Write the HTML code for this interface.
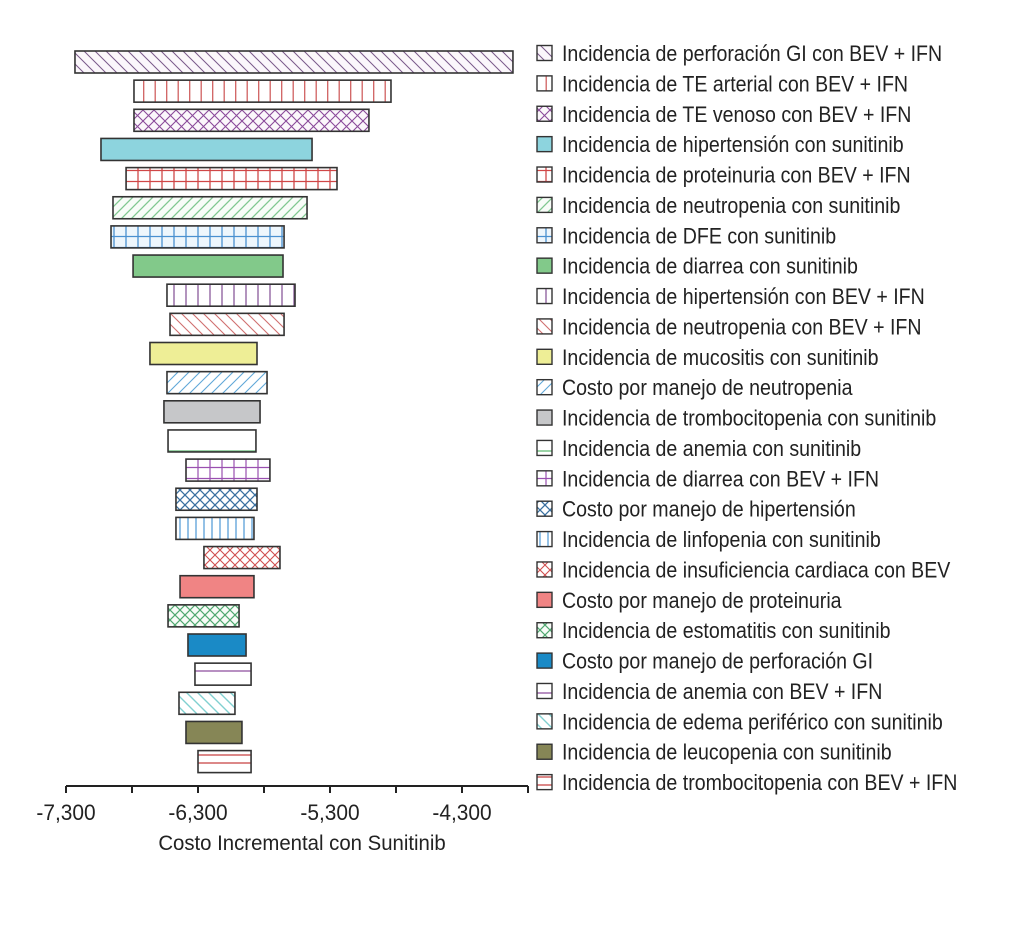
<!DOCTYPE html>
<html><head><meta charset="utf-8"><style>
html,body{margin:0;padding:0;background:#fff;}
svg text{font-family:"Liberation Sans",sans-serif;fill:#222;}
</style></head><body>
<svg width="1025" height="920" viewBox="0 0 1025 920" xmlns="http://www.w3.org/2000/svg">
<defs>
<pattern id="p-diagb-purple" width="11" height="11" patternUnits="userSpaceOnUse"><rect width="11" height="11" fill="#fbf7fb"/><path d="M0,0L11,11M-1,10L1,12M10,-1L12,1" stroke="#7a5a8a" stroke-width="1"/></pattern>
<pattern id="p-vert-red" width="11.5" height="10" patternUnits="userSpaceOnUse"><rect width="11.5" height="10" fill="#fff"/><path d="M5.7,0V10" stroke="#d06060" stroke-width="1.3"/></pattern>
<pattern id="p-cross-purple" width="11" height="11" patternUnits="userSpaceOnUse"><rect width="11" height="11" fill="#fbf7fb"/><path d="M0,0L11,11M11,0L0,11" stroke="#8a4a9a" stroke-width="1.1"/></pattern>
<pattern id="p-grid-red" width="12" height="11" patternUnits="userSpaceOnUse"><rect width="12" height="11" fill="#fff"/><path d="M6,0V11M0,5.5H12" stroke="#d04848" stroke-width="1.3"/></pattern>
<pattern id="p-diagf-green" width="10" height="10" patternUnits="userSpaceOnUse"><rect width="10" height="10" fill="#f8fcf8"/><path d="M0,10L10,0M-1,1L1,-1M9,11L11,9" stroke="#80c890" stroke-width="1.3"/></pattern>
<pattern id="p-grid-blue" width="12" height="11" patternUnits="userSpaceOnUse"><rect width="12" height="11" fill="#eef6fc"/><path d="M6,0V11M0,5.5H12" stroke="#4a90d0" stroke-width="1.3"/></pattern>
<pattern id="p-vert-purple" width="12" height="10" patternUnits="userSpaceOnUse"><rect width="12" height="10" fill="#fff"/><path d="M6,0V10" stroke="#8a5a9a" stroke-width="1.3"/></pattern>
<pattern id="p-diagb-red" width="11" height="11" patternUnits="userSpaceOnUse"><rect width="11" height="11" fill="#fff"/><path d="M0,0L11,11M-1,10L1,12M10,-1L12,1" stroke="#d07070" stroke-width="1.1"/></pattern>
<pattern id="p-diagf-blue" width="11" height="11" patternUnits="userSpaceOnUse"><rect width="11" height="11" fill="#fff"/><path d="M0,11L11,0M-1,1L1,-1M10,12L12,10" stroke="#60a8d8" stroke-width="1.1"/></pattern>
<pattern id="p-hline-green" width="10" height="22" patternUnits="userSpaceOnUse"><rect width="10" height="22" fill="#fff"/><path d="M0,11H10" stroke="#80c890" stroke-width="1.6"/></pattern>
<pattern id="p-grid-purple" width="12" height="11" patternUnits="userSpaceOnUse"><rect width="12" height="11" fill="#fff"/><path d="M6,0V11M0,5.5H12" stroke="#9a50b0" stroke-width="1.2"/></pattern>
<pattern id="p-cross-blue" width="10" height="10" patternUnits="userSpaceOnUse"><rect width="10" height="10" fill="#fff"/><path d="M0,0L10,10M10,0L0,10" stroke="#3a70a0" stroke-width="1.3"/></pattern>
<pattern id="p-vert-blue" width="8" height="10" patternUnits="userSpaceOnUse"><rect width="8" height="10" fill="#fff"/><path d="M4,0V10" stroke="#5aa0d8" stroke-width="1.3"/></pattern>
<pattern id="p-cross-red" width="10" height="10" patternUnits="userSpaceOnUse"><rect width="10" height="10" fill="#fff"/><path d="M0,0L10,10M10,0L0,10" stroke="#d05050" stroke-width="1.1"/></pattern>
<pattern id="p-cross-green" width="10" height="10" patternUnits="userSpaceOnUse"><rect width="10" height="10" fill="#f8fcf8"/><path d="M0,0L10,10M10,0L0,10" stroke="#50a870" stroke-width="1.2"/></pattern>
<pattern id="p-hline-purple" width="10" height="22" patternUnits="userSpaceOnUse"><rect width="10" height="22" fill="#fff"/><path d="M0,11H10" stroke="#9a60a8" stroke-width="1.4"/></pattern>
<pattern id="p-diagb-cyan" width="11" height="11" patternUnits="userSpaceOnUse"><rect width="11" height="11" fill="#fff"/><path d="M0,0L11,11M-1,10L1,12M10,-1L12,1" stroke="#80d0d0" stroke-width="1.4"/></pattern>
<pattern id="p-hline2-red" width="10" height="22" patternUnits="userSpaceOnUse"><rect width="10" height="22" fill="#fff"/><path d="M0,7H10M0,15H10" stroke="#d06060" stroke-width="1.4"/></pattern>
</defs>
<g id="bars"></g>
<g id="legend"></g>
<g id="axis"></g>
</svg>
<script>
const labels = ["Incidencia de perforación GI con BEV + IFN","Incidencia de TE arterial con BEV + IFN","Incidencia de TE venoso con BEV + IFN","Incidencia de hipertensión con sunitinib","Incidencia de proteinuria con BEV + IFN","Incidencia de neutropenia con sunitinib","Incidencia de DFE con sunitinib","Incidencia de diarrea con sunitinib","Incidencia de hipertensión con BEV + IFN","Incidencia de neutropenia con BEV + IFN","Incidencia de mucositis con sunitinib","Costo por manejo de neutropenia","Incidencia de trombocitopenia con sunitinib","Incidencia de anemia con sunitinib","Incidencia de diarrea con BEV + IFN","Costo por manejo de hipertensión","Incidencia de linfopenia con sunitinib","Incidencia de insuficiencia cardiaca con BEV","Costo por manejo de proteinuria","Incidencia de estomatitis con sunitinib","Costo por manejo de perforación GI","Incidencia de anemia con BEV + IFN","Incidencia de edema periférico con sunitinib","Incidencia de leucopenia con sunitinib","Incidencia de trombocitopenia con BEV + IFN"];
const lowValues = [-7232,-6785,-6785,-7035,-6845,-6944,-6959,-6792,-6535,-6512,-6664,-6535,-6558,-6527,-6391,-6467,-6467,-6255,-6436,-6527,-6376,-6323,-6444,-6391,-6300];
const highValues = [-3914,-4838,-5005,-5436,-5247,-5474,-5648,-5656,-5565,-5648,-5853,-5777,-5830,-5861,-5755,-5853,-5876,-5679,-5876,-5989,-5936,-5898,-6020,-5967,-5898];
const fills = ["url(#p-diagb-purple)","url(#p-vert-red)","url(#p-cross-purple)","#8dd4de","url(#p-grid-red)","url(#p-diagf-green)","url(#p-grid-blue)","#82c98a","url(#p-vert-purple)","url(#p-diagb-red)","#eeee96","url(#p-diagf-blue)","#c6c7c9","url(#p-hline-green)","url(#p-grid-purple)","url(#p-cross-blue)","url(#p-vert-blue)","url(#p-cross-red)","#f08484","url(#p-cross-green)","#1a8ac6","url(#p-hline-purple)","url(#p-diagb-cyan)","#868656","url(#p-hline2-red)"];
const tickValues = [-7300,-6800,-6300,-5800,-5300,-4800,-4300,-3800];
const tickLabels = ["-7,300","-6,300","-5,300","-4,300"];
const labelValues = [-7300,-6300,-5300,-4300];

const NS="http://www.w3.org/2000/svg";
const x = v => 66 + (v + 7300) * 0.132;
const barY = i => 51 + i * 29.15;
const legY = i => 53 + i * 30.38;
function mk(tag, attrs, parent){const e=document.createElementNS(NS,tag);for(const k in attrs)e.setAttribute(k,attrs[k]);parent.appendChild(e);return e;}
const gb=document.getElementById('bars'), gl=document.getElementById('legend'), ga=document.getElementById('axis');
labels.forEach((lab,i)=>{
  const r=mk('rect',{x:x(lowValues[i]),y:barY(i),width:x(highValues[i])-x(lowValues[i]),height:22,fill:fills[i],stroke:'#333','stroke-width':1.6},gb);
  
  
  const s=mk('rect',{x:537,y:legY(i)-7.5,width:15,height:15,fill:fills[i],stroke:'#333','stroke-width':1.4},gl);
  
  
  const t=mk('text',{x:0,y:0,'font-size':22,transform:`translate(562,${legY(i)+8}) scale(0.89,1)`},gl);
  t.textContent=lab;
  
  
});
const axl=mk('line',{x1:66,y1:786,x2:528,y2:786,stroke:'#222','stroke-width':2},ga);


tickValues.forEach(v=>{
  if(x(v)>529)return;
  const t=mk('line',{x1:x(v),y1:786,x2:x(v),y2:793,stroke:'#222','stroke-width':2},ga);
  
  
});
labelValues.forEach((v,i)=>{
  const t=mk('text',{x:0,y:0,'font-size':22,'text-anchor':'middle',transform:`translate(${x(v)},820) scale(0.95,1)`},ga);
  t.textContent=tickLabels[i];
  
  
});
const ttl=mk('text',{x:0,y:0,'font-size':21,'text-anchor':'middle',transform:'translate(302,850) scale(0.97,1)'},ga);
ttl.textContent='Costo Incremental con Sunitinib';


</script>
</body></html>
